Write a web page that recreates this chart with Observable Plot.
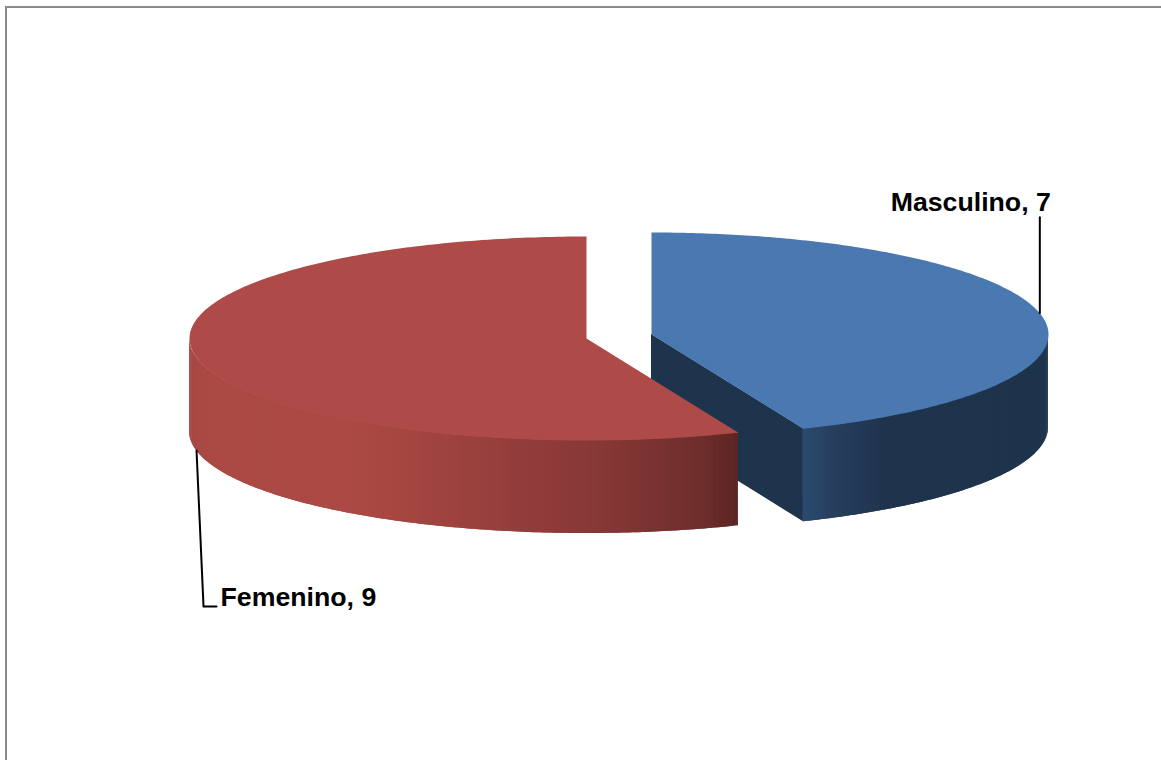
<!DOCTYPE html>
<html>
<head>
<meta charset="utf-8">
<script src="https://cdn.jsdelivr.net/npm/d3@7"></script>
<script src="https://cdn.jsdelivr.net/npm/@observablehq/plot@0.6"></script>
<style>
  html, body { margin: 0; padding: 0; background: #fff; overflow: hidden; }
  #wrap { position: relative; width: 1161px; height: 760px; }
  #frame { position: absolute; left: 5px; top: 6px; right: 0; bottom: 0; border-left: 2px solid #8a8a8a; border-top: 2px solid #8a8a8a; }
  #chart { position: absolute; left: 0; top: 0; }
  #chart svg { background: transparent; display: block; }
</style>
</head>
<body>
<div id="wrap"><div id="frame"></div><div id="chart"></div></div>
<script>
// Data
const categories = ["Masculino", "Femenino"];
const values = [7, 9];
const topColors = ["#4a78b0", "#ae4a47"];

// Side-wall shading, by horizontal position in pie radii from the slice centre
const sideStops = [
  {at: [0.385, 0.47, 0.6, 1], colors: ["#2a4a70", "#263d5c", "#1e334c", "#1e334c"]},
  {at: [-1, -0.95, -0.6, -0.47, -0.29, -0.09, 0.086, 0.287, 0.38],
   colors: ["#a64845", "#ab4945", "#ac4945", "#a64641", "#9a413d", "#8e3b3a", "#823635", "#6e2e2c", "#5c2624"]}
];
const cutFaceColor = "#1e334c";
const leaderAngles = [78, 259.2];

// Projection of the tilted pie
const W = 1161, H = 760, R = 397;
const originX = 586, originY = 338;
const tilt = 102 / R, depth = 93 / R;
const offsets = [{x: 65 / R, y: -4 / R}, {x: 0, y: 0}];
const rad = d => d * Math.PI / 180;

const slices = d3.pie().sort(null)(values).map((s, i) => ({
  name: categories[i], value: values[i], a0: s.startAngle, a1: s.endAngle,
  ox: offsets[i].x, oy: offsets[i].y, color: topColors[i], index: i
}));
const rim = (s, a, drop = 0) => ({
  x: s.ox + Math.sin(a),
  y: s.oy - Math.cos(a) * tilt + drop
});

// Top faces
const topFace = slices.flatMap(s => {
  const n = 240;
  const pts = [{x: s.ox, y: s.oy, slice: s.name}];
  for (let k = 0; k <= n; k++) {
    pts.push({...rim(s, s.a0 + (s.a1 - s.a0) * k / n), slice: s.name});
  }
  return pts;
});

// Rim walls, one short strip per step, visible only on the near half of the ellipse
const walls = slices.map(s => {
  const shade = d3.scaleLinear().domain(sideStops[s.index].at).range(sideStops[s.index].colors).clamp(true);
  const from = Math.max(s.a0, Math.PI / 2);
  const to = Math.min(s.a1, 3 * Math.PI / 2);
  const steps = Math.round((to - from) / rad(0.75));
  const rows = [];
  for (let k = 0; k < steps; k++) {
    const a = from + (to - from) * k / steps;
    const b = from + (to - from) * Math.min(k + 2, steps) / steps;
    const mid = from + (to - from) * (k + 0.5) / steps;
    const fill = shade(Math.sin(mid));
    for (const t of [a, (a + b) / 2, b]) {
      const p = rim(s, t);
      rows.push({x: p.x, y1: p.y, y2: p.y + depth, strip: k, fill});
    }
  }
  return rows;
});

// Cut face of the separated slice, seen from the front
const blue = slices[0];
const end = rim(blue, blue.a1);
const cutFace = [
  {x: blue.ox, y1: blue.oy, y2: blue.oy + depth},
  {x: end.x, y1: end.y, y2: end.y + depth}
];

// Leader lines and labels
const leaderA = rim(blue, rad(leaderAngles[0]));
const leaderB = rim(slices[1], rad(leaderAngles[1]), depth);
const lineMasc = [leaderA, {x: leaderA.x, y: leaderA.y - 96 / R}];
const lineFem = [
  leaderB,
  {x: leaderB.x + 7 / R, y: leaderB.y + 156 / R},
  {x: leaderB.x + 20 / R, y: leaderB.y + 156 / R}
];
const labels = [
  {text: `${categories[0]}, ${values[0]}`, x: lineMasc[1].x + 11 / R, y: lineMasc[1].y - 15 / R},
  {text: `${categories[1]}, ${values[1]}`, x: lineFem[2].x + 4 / R, y: lineFem[2].y - 9 / R, start: true}
];

const wallMark = rows => Plot.areaY(rows, {x: "x", y1: "y1", y2: "y2", z: "strip", fill: "fill", stroke: "none"});
const topMark = name => Plot.line(topFace.filter(d => d.slice === name), {x: "x", y: "y", z: "slice", fill: topColors[categories.indexOf(name)], stroke: "none"});

const chart = Plot.plot({
  width: W, height: H,
  margin: 0,
  style: {background: "transparent"},
  x: {domain: [-originX / R, (W - originX) / R], range: [0, W], axis: null},
  y: {domain: [-originY / R, (H - originY) / R], range: [0, H], axis: null},
  marks: [
    Plot.areaY(cutFace, {x: "x", y1: "y1", y2: "y2", fill: cutFaceColor}),
    wallMark(walls[0]),
    topMark(categories[0]),
    wallMark(walls[1]),
    topMark(categories[1]),
    Plot.line(lineMasc, {x: "x", y: "y", stroke: "#000", strokeWidth: 2}),
    Plot.line(lineFem, {x: "x", y: "y", stroke: "#000", strokeWidth: 2}),
    Plot.text(labels.filter(d => !d.start), {
      x: "x", y: "y", text: "text", textAnchor: "end", fill: "#000",
      fontFamily: "Liberation Sans", fontWeight: "bold", fontSize: 26.7
    }),
    Plot.text(labels.filter(d => d.start), {
      x: "x", y: "y", text: "text", textAnchor: "start", fill: "#000",
      fontFamily: "Liberation Sans", fontWeight: "bold", fontSize: 26.7
    })
  ]
});
document.getElementById("chart").appendChild(chart);
</script>
</body>
</html>
